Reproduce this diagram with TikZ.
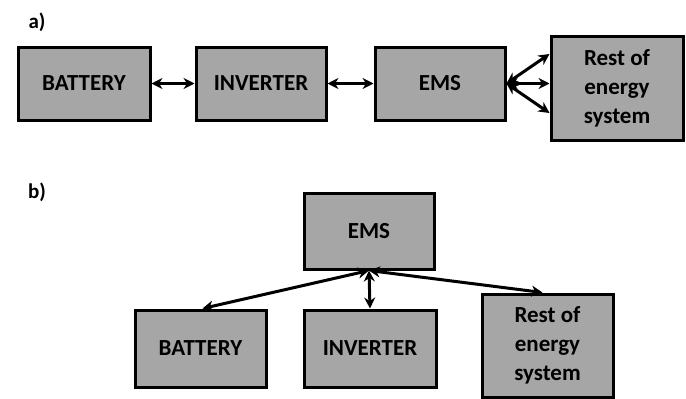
\documentclass[tikz,border=0pt]{standalone}
\usepackage{fontspec}
\setmainfont{Carlito}
\usetikzlibrary{arrows.meta}
\tikzset{
  blok/.style={draw,line width=3pt,fill=boxgray,minimum width=130pt,minimum height=74pt,
    font=\fontsize{23}{29}\selectfont\bfseries,align=center,inner sep=2pt},
  link/.style={{Stealth[length=11pt,width=11pt]}-{Stealth[length=11pt,width=11pt]},line width=3pt}
}
\definecolor{boxgray}{HTML}{A6A6A6}
\begin{document}
\begin{tikzpicture}[x=1pt,y=-1pt]
\useasboundingbox (0,0) rectangle (686,399);
% a)
\node[font=\fontsize{21}{25}\selectfont\bfseries] (la) at (37,22) {a)};
\node[blok,minimum width=132pt,minimum height=73pt] (bat1) at (84,83.5) {BATTERY};
\node[blok,minimum height=73pt] (inv1) at (261,83.5) {INVERTER};
\node[blok,minimum height=73pt] (ems1) at (440,83.5) {EMS};
\node[blok,minimum width=132pt,minimum height=104pt] (rest1) at (617,88) {Rest of\\energy\\system};
\draw[link] (bat1.east) -- (inv1.west);
\draw[link] (inv1.east) -- (ems1.west);
\draw[link] (ems1.east) -- (rest1.west |- 0,54);
\draw[link] (ems1.east) -- (rest1.west |- 0,83.5);
\draw[link] (ems1.east) -- (rest1.west |- 0,113);
% b)
\node[font=\fontsize{21}{25}\selectfont\bfseries] (lb) at (37,192) {b)};
\node[blok,minimum height=76pt] (ems2) at (369,231) {EMS};
\node[blok,minimum width=131pt,minimum height=77pt] (bat2) at (200.5,348.5) {BATTERY};
\node[blok,minimum width=132pt,minimum height=77pt] (inv2) at (370,348.5) {INVERTER};
\node[blok,minimum width=131pt,minimum height=103pt] (rest2) at (547.5,345.5) {Rest of\\energy\\system};
\draw[link] (ems2.south) -- ([xshift=2pt]bat2.north);
\draw[link] (ems2.south) -- (inv2.north);
\draw[link] (ems2.south) -- ([xshift=-5pt]rest2.north);
\end{tikzpicture}
\end{document}
